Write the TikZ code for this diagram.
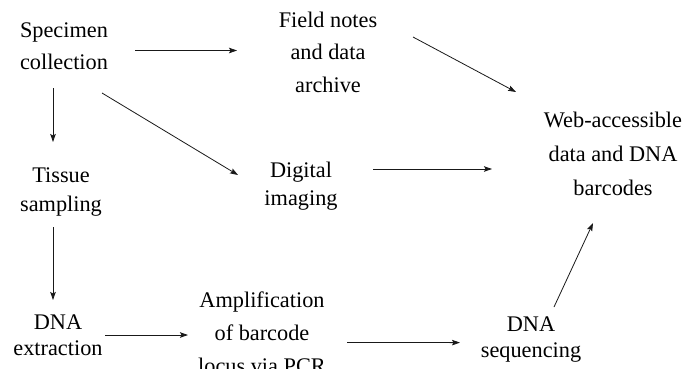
\documentclass[tikz,border=0pt]{standalone}
\usepackage{fontspec}
\setmainfont{Liberation Serif}
\usetikzlibrary{arrows.meta}
\tikzset{
  lbl/.style={align=center, inner sep=0pt, font=\fontsize{22.3}{30}\selectfont},
  sp/.style={font=\fontsize{22.3}{#1}\selectfont},
  arr/.style={-{Stealth[length=8pt,width=5.5pt,inset=1.5pt]}, line width=0.8pt, draw=black!90}
}
\begin{document}
\begin{tikzpicture}[x=1pt,y=-1pt]
\useasboundingbox[fill=white] (0,0) rectangle (688,368);
% nodes
\node[lbl,sp=32] (spec) at (64,46.5) {Specimen\\collection};
\node[lbl,sp=32.5] (field) at (328,52) {Field notes\\and data\\archive};
\node[lbl,sp=34] (web) at (613,153.5) {Web-accessible\\data and DNA\\barcodes};
\node[lbl,sp=28] (dig) at (301,186) {Digital\\imaging};
\node[lbl,sp=29] (tissue) at (61,192.5) {Tissue\\sampling};
\node[lbl,sp=25.5] (dnae) at (58,335) {DNA\\extraction};
\node[lbl,sp=33] (amp) at (262,332.5) {Amplification\\of barcode\\locus via PCR};
\node[lbl,sp=25.5] (seq) at (531,339.6) {DNA\\sequencing};
% connectors
\draw[arr] ([shift={(71,4)}]spec.center) -- ([shift={(-91,-1.5)}]field.center);
\draw[arr] ([shift={(85,-15)}]field.center) -- ([shift={(-97,-61.5)}]web.center);
\draw[arr] ([shift={(-11,41.5)}]spec.center) -- ([shift={(-8,-50.5)}]tissue.center);
\draw[arr] ([shift={(38,46.5)}]spec.center) -- ([shift={(-63,-11)}]dig.center);
\draw[arr] ([shift={(72,-17)}]dig.center) -- ([shift={(-121,15.5)}]web.center);
\draw[arr] ([shift={(-8,34.5)}]tissue.center) -- ([shift={(-5,-35)}]dnae.center);
\draw[arr] ([shift={(47,0)}]dnae.center) -- ([shift={(-74,2.5)}]amp.center);
\draw[arr] ([shift={(85,10)}]amp.center) -- ([shift={(-71,3)}]seq.center);
\draw[arr] ([shift={(23,-32.6)}]seq.center) -- ([shift={(-20,69.5)}]web.center);
\end{tikzpicture}
\end{document}
